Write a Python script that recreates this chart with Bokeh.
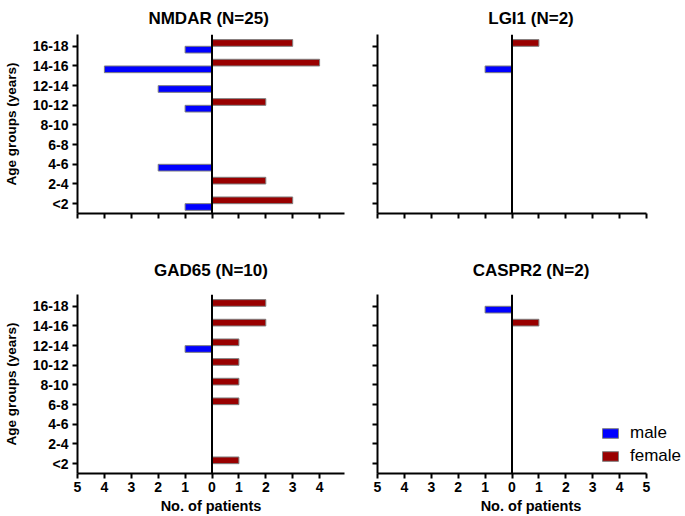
from bokeh.plotting import figure
from bokeh.models import ColumnDataSource, FixedTicker, Span, Legend, LegendItem
from bokeh.layouts import column, row
from bokeh.embed import file_html
from bokeh.resources import INLINE

# ---- data ----
age_groups = ["<2", "2-4", "4-6", "6-8", "8-10", "10-12", "12-14", "14-16", "16-18"]
x_ticks = [-5, -4, -3, -2, -1, 0, 1, 2, 3, 4, 5]

nmdar_male = [1, 0, 2, 0, 0, 1, 2, 4, 1]
nmdar_female = [3, 2, 0, 0, 0, 2, 0, 4, 3]
lgi1_male = [0, 0, 0, 0, 0, 0, 0, 1, 0]
lgi1_female = [0, 0, 0, 0, 0, 0, 0, 0, 1]
gad65_male = [0, 0, 0, 0, 0, 0, 1, 0, 0]
gad65_female = [1, 0, 0, 1, 1, 1, 1, 2, 2]
caspr2_male = [0, 0, 0, 0, 0, 0, 0, 0, 1]
caspr2_female = [0, 0, 0, 0, 0, 0, 0, 1, 0]

MALE_COLOR = "#0000FF"
FEMALE_COLOR = "#990000"
FONT = "Liberation Sans"
OFF = 0.17
BAR_H = 0.34

AXIS_W = 269          # pixel width of the -5..5 axis
LFW, RFW, FH = 267, 307, 179


def make_panel(title, male, female, left, bottom, fw, fh,
               bl, br, bt, bb, title_standoff):
    x_end = -5 + 10 * fw / AXIS_W
    p = figure(frame_width=fw, frame_height=fh, x_range=(-5, x_end), y_range=(-0.5, 8.6),
               output_backend="svg", toolbar_location=None,
               min_border_left=bl, min_border_right=br,
               min_border_top=bt, min_border_bottom=bb)
    p.outline_line_color = None
    p.xgrid.visible = False
    p.ygrid.visible = False
    p.background_fill_color = "white"
    p.border_fill_color = "white"

    p.title.text = title
    p.title.align = "center"
    p.title.text_font = FONT
    p.title.text_font_size = "17px"
    p.title.text_font_style = "bold"
    p.title.text_color = "black"
    p.title.standoff = title_standoff

    # bars
    mi = [i for i, v in enumerate(male) if v]
    fi = [i for i, v in enumerate(female) if v]
    msrc = ColumnDataSource(dict(y=[i - OFF for i in mi], left=[-male[i] for i in mi]))
    fsrc = ColumnDataSource(dict(y=[i + OFF for i in fi], right=[female[i] for i in fi]))
    rm = p.hbar(y="y", left="left", right=0, height=BAR_H, source=msrc,
                fill_color=MALE_COLOR, line_color="#7f7f7f", line_width=1)
    rf = p.hbar(y="y", left=0, right="right", height=BAR_H, source=fsrc,
                fill_color=FEMALE_COLOR, line_color="#7f7f7f", line_width=1)

    p.add_layout(Span(location=0, dimension="height", line_color="black", line_width=2))

    # axes
    for ax in (p.xaxis[0], p.yaxis[0]):
        ax.axis_line_width = 2
        ax.axis_line_color = "black"
        ax.major_tick_line_width = 2
        ax.major_tick_line_color = "black"
        ax.major_tick_out = 5
        ax.major_tick_in = 0
        ax.minor_tick_line_color = None
        ax.major_label_text_font = FONT
        ax.major_label_text_font_size = "14px"
        ax.major_label_text_font_style = "bold"
        ax.major_label_text_color = "black"
        ax.axis_label_text_font = FONT
        ax.axis_label_text_font_style = "bold"
        ax.axis_label_text_color = "black"

    xa = p.xaxis[0]
    xa.ticker = FixedTicker(ticks=x_ticks)
    xa.bounds = (x_ticks[0], x_ticks[-1])
    xa.axis_label_text_font_size = "14.5px"
    if bottom:
        xa.major_label_overrides = {t: str(abs(t)) for t in x_ticks}
        xa.axis_label = "No. of patients"
        xa.major_label_standoff = 3
        xa.axis_label_standoff = 3
    else:
        xa.major_label_overrides = {t: "" for t in x_ticks}

    ya = p.yaxis[0]
    ya.ticker = FixedTicker(ticks=list(range(len(age_groups))))
    ya.axis_label_text_font_size = "13.5px"
    if left:
        ya.major_label_overrides = {i: g for i, g in enumerate(age_groups)}
        ya.axis_label = "Age groups (years)"
        ya.major_label_standoff = 4
        ya.axis_label_standoff = 11
    else:
        ya.major_label_overrides = {i: "" for i in range(len(age_groups))}
    return p, rm, rf


p1, _, _ = make_panel("NMDAR  (N=25)", nmdar_male, nmdar_female, True, False,
                      LFW, FH, 69, 9, 33, 31, 13)
p2, _, _ = make_panel("LGI1 (N=2)", lgi1_male, lgi1_female, False, False,
                      RFW, FH, 24, 0, 33, 31, 13)
p3, _, _ = make_panel("GAD65 (N=10)", gad65_male, gad65_female, True, True,
                      LFW, FH, 69, 9, 49, 44, 29)
p4, rm4, rf4 = make_panel("CASPR2 (N=2)", caspr2_male, caspr2_female, False, True,
                          RFW, FH, 24, 0, 49, 44, 29)

legend = Legend(items=[LegendItem(label="male", renderers=[rm4]),
                       LegendItem(label="female", renderers=[rf4])],
                location=(223, 7), padding=0, margin=0, spacing=3,
                glyph_width=20, glyph_height=12, label_standoff=10,
                label_text_font=FONT, label_text_font_size="17px",
                label_text_color="black", label_height=12,
                background_fill_alpha=0, border_line_alpha=0)
p4.add_layout(legend, "center")

layout = column(row(p1, p2), row(p3, p4))

open("out.html", "w").write(file_html(layout, INLINE))
